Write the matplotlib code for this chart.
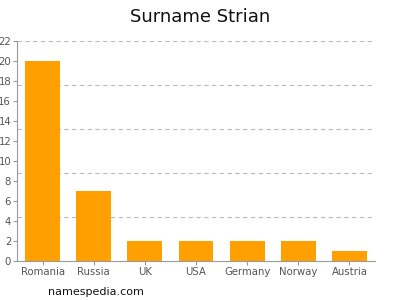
import matplotlib
matplotlib.use("Agg")
import matplotlib.pyplot as plt

# surname counts by country
countries = ["Romania", "Russia", "UK", "USA", "Germany", "Norway", "Austria"]
counts = [20, 7, 2, 2, 2, 2, 1]
y_ticks = list(range(0, 23, 2))
grid_levels = [4.4, 8.8, 13.2, 17.6, 22]

fig = plt.figure(figsize=(4, 3), dpi=100)
ax = fig.add_axes([0.0425, 0.13, 0.895, 0.734])

ax.bar(range(len(countries)), counts, width=0.68, color="#FFA000", zorder=2)

for g in grid_levels:
    ax.axhline(g, color="#bbbbbb", linestyle=(0, (4, 3)), linewidth=0.8, zorder=1)

ax.set_xlim(-0.5, len(countries) - 0.5)
ax.set_ylim(0, 22)
ax.set_yticks(y_ticks)
ax.set_xticks(range(len(countries)))
ax.set_xticklabels(countries)

for side in ["top", "right"]:
    ax.spines[side].set_visible(False)
for side in ["left", "bottom"]:
    ax.spines[side].set_color("#999999")
    ax.spines[side].set_linewidth(0.8)

ax.tick_params(axis="both", colors="#999999", labelcolor="#555555",
               labelsize=7.3, length=3, width=0.8, pad=1.2)

fig.text(0.5, 0.945, "Surname Strian", ha="center", va="center", fontsize=13, color="#111111")
fig.text(0.12, 0.027, "namespedia.com", ha="left", va="center", fontsize=8, color="#111111")

fig.savefig("out.png", dpi=100)
